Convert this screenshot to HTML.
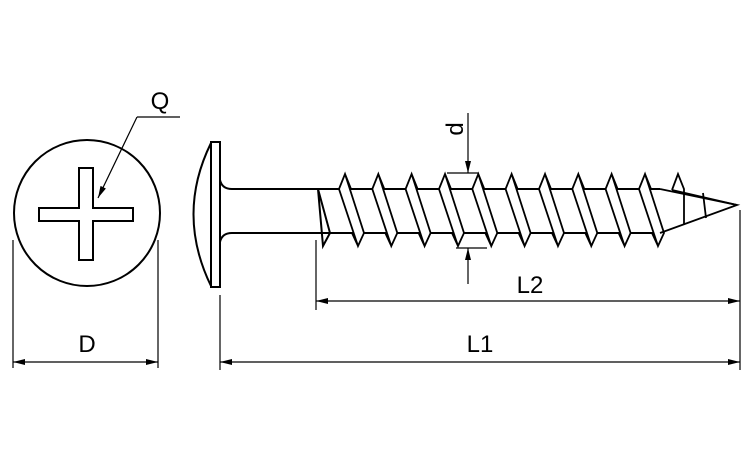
<!DOCTYPE html>
<html><head><meta charset="utf-8"><style>
body{margin:0;background:#fff}
svg{display:block}
text{font-family:"Liberation Sans",sans-serif;font-size:24px;fill:#000}
</style></head><body>
<svg width="750" height="450" viewBox="0 0 750 450" xmlns="http://www.w3.org/2000/svg">
<defs><marker id="a" markerWidth="12" markerHeight="6" refX="12" refY="3" orient="auto" markerUnits="userSpaceOnUse"><path d="M0,0 L12,3 L0,6 z" fill="#000"/></marker></defs>
<g fill="none" stroke="#000" stroke-width="2">
<circle cx="87" cy="213" r="73"/>
<path d="M79,168 H93 V208 H133 V221 H93 V260 H79 V221 H39 V208 H79 Z"/>
<path d="M211,143 Q176,214 211,286"/>
<rect x="211" y="142" width="9" height="145"/>
<path d="M220,180 Q222,189 232,189 H318 M220,242 Q222,233 232,233 H318"/>
<path d="M318,189 H660 M318,233 H660"/>
<path d="M318,189 L330,233 L323,246 Z"/>
</g>
<g fill="#fff" stroke="#000" stroke-width="1.8">
<path id="t" d="M339,189 L345,174 L364,233 L358,246 Z M345,174 L351,189 M358,246 L352,233"/>
<use href="#t" x="33.3"/><use href="#t" x="66.6"/><use href="#t" x="100"/><use href="#t" x="133.3"/><use href="#t" x="166.6"/><use href="#t" x="200"/><use href="#t" x="233.3"/><use href="#t" x="266.6"/><use href="#t" x="300"/>
</g>
<g fill="none" stroke="#000" stroke-width="1.8">
<path d="M660,189 L737,205 L660,233"/>
<path d="M672,190 L678,174 L684,189 L684,225 M672,190 L737,205"/>
<path d="M703,193 L706,218"/>
</g>
<g stroke="#000" stroke-width="1.2" fill="none">
<path d="M447,173 H478 M456,248 H487"/>
<line x1="468" y1="113" x2="468" y2="173" marker-end="url(#a)"/>
<line x1="468" y1="284" x2="468" y2="248" marker-end="url(#a)"/>
<path d="M180,117 H137"/>
<line x1="137" y1="117" x2="98" y2="198" marker-end="url(#a)"/>
<path d="M13,240 V368 M158,240 V368 M220,295 V370 M316,240 V310 M740,210 V370"/>
<line x1="85" y1="362" x2="13" y2="362" marker-end="url(#a)"/>
<line x1="85" y1="362" x2="158" y2="362" marker-end="url(#a)"/>
<line x1="480" y1="362" x2="220" y2="362" marker-end="url(#a)"/>
<line x1="480" y1="362" x2="740" y2="362" marker-end="url(#a)"/>
<line x1="530" y1="301" x2="316" y2="301" marker-end="url(#a)"/>
<line x1="530" y1="301" x2="740" y2="301" marker-end="url(#a)"/>
</g>
<text x="160" y="109" text-anchor="middle">Q</text>
<text x="87" y="352" text-anchor="middle">D</text>
<text x="480" y="352" text-anchor="middle">L1</text>
<text x="530" y="293" text-anchor="middle">L2</text>
<text transform="translate(463,129) rotate(-90)" text-anchor="middle">d</text>
</svg>
</body></html>
